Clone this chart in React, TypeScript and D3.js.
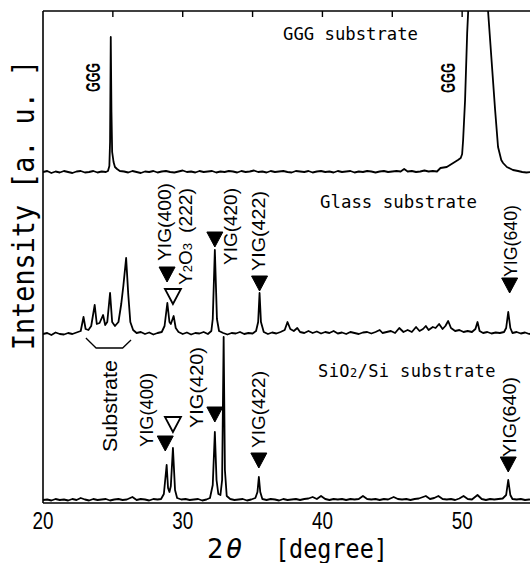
import React from "react";
import * as d3 from "d3";

// 2θ (deg), intensity relative to each trace's own baseline (a.u.)
const gggTrace: [number, number][] = [
  [20.0,0],[20.3,1],[20.6,-1],[20.9,0.5],[21.2,-0.5],[21.5,1],[21.8,0],[22.1,-1],[22.4,0.5],[22.7,1],[23.0,-0.5],[23.3,0],[23.6,1],[23.9,-0.5],[24.2,0.5],[24.5,0],[24.65,1],[24.75,6],[24.8,30],[24.85,135],[24.9,60],[24.95,20],[25.05,10],[25.15,5],[25.3,3],[25.5,1],[25.8,0.5],[26.1,-0.5],[26.4,1],[26.7,0],[27.0,-1],[27.3,0.5],[27.6,0],[27.9,1],[28.2,-0.5],[28.5,0.5],[28.8,1],[29.1,0],[29.4,-0.5],[29.7,0.5],[30.0,1.5],[30.3,0],[30.6,0.5],[30.9,-0.5],[31.2,1],[31.5,0],[31.8,0.5],[32.1,1],[32.4,-0.5],[32.7,0.5],[33.0,0],[33.3,1],[33.6,0.5],[33.9,-0.5],[34.2,1],[34.5,0],[34.8,0.5],[35.1,1.5],[35.4,0],[35.7,0.5],[36.0,-0.5],[36.3,1],[36.6,0],[36.9,0.5],[37.2,1],[37.5,0],[37.8,-0.5],[38.1,1],[38.4,0.5],[38.7,0],[39.0,1],[39.3,-0.5],[39.6,0.5],[39.9,1],[40.2,0],[40.5,0.5],[40.8,-0.5],[41.1,1],[41.4,0],[41.7,0.5],[42.0,1],[42.3,-0.5],[42.6,0.5],[42.9,0],[43.2,1],[43.5,0.5],[43.8,-0.5],[44.1,0.5],[44.4,1],[44.7,0],[45.0,0.5],[45.3,1],[45.6,0.5],[45.85,3],[46.1,0.5],[46.4,1],[46.7,0],[47.0,0.5],[47.3,1.5],[47.6,0.5],[47.9,1],[48.2,0.5],[48.45,4],[48.9,5],[49.36,9],[49.7,12],[49.9,14],[50.0,18],[50.07,32],[50.21,72],[50.36,139],[50.43,160],[50.6,260],[51.1,400],[51.6,260],[51.86,160],[52.14,105],[52.36,62],[52.57,25],[52.8,12],[52.93,9],[53.2,5],[53.64,2],[54.0,1],[54.3,0],[54.6,-0.5],[55,0],
];

const glassTrace: [number, number][] = [
  [20,0],[20.3,1],[20.6,-1],[20.9,1.5],[21.2,0],[21.5,-0.5],[21.8,1],[22.1,0],[22.4,1.5],[22.7,3],[22.9,17],[23.05,5],[23.25,4],[23.45,8],[23.7,29],[23.85,10],[24.05,11],[24.3,19],[24.45,9],[24.6,12],[24.8,41],[24.95,12],[25.15,8],[25.4,12],[25.6,30],[25.75,48],[25.95,76],[26.1,40],[26.25,12],[26.45,4],[26.7,1],[27.0,2],[27.3,0],[27.6,1.5],[27.9,-0.5],[28.2,1],[28.5,2],[28.7,8],[28.9,31],[29.05,12],[29.15,10],[29.35,18],[29.5,6],[29.7,2],[30.0,0],[30.3,1.5],[30.6,-0.5],[30.9,1],[31.2,0.5],[31.5,2],[31.8,0],[32.05,3],[32.15,15],[32.3,84],[32.45,15],[32.6,3],[32.9,1],[33.2,-0.5],[33.5,1],[33.8,0.5],[34.1,2],[34.4,0],[34.7,1],[35.0,0.5],[35.25,3],[35.4,12],[35.5,41],[35.6,12],[35.8,2],[36.1,0],[36.4,1.5],[36.7,0.5],[37.0,2],[37.3,4],[37.5,12],[37.7,5],[37.95,3],[38.2,6],[38.4,2],[38.7,1],[39.0,3],[39.3,1],[39.6,2.5],[39.9,0.5],[40.2,2],[40.5,1],[40.8,3],[41.1,0.5],[41.4,1.5],[41.7,0],[42.0,2],[42.3,1],[42.6,0],[42.9,1.5],[43.2,2],[43.5,0.5],[43.8,2],[44.1,4],[44.3,1],[44.6,2],[44.9,3],[45.2,1],[45.5,6],[45.8,2],[46.1,4],[46.4,2],[46.7,7],[46.95,3],[47.2,5],[47.4,8],[47.6,4],[47.9,7],[48.1,6],[48.35,10],[48.6,5],[48.8,8],[49.0,13],[49.2,6],[49.5,3],[49.8,4],[50.1,2],[50.4,3],[50.7,2],[50.95,5],[51.1,12],[51.25,3],[51.5,1],[51.8,2],[52.1,0.5],[52.4,1.5],[52.7,1],[53.0,2],[53.15,6],[53.3,22],[53.45,6],[53.6,1],[53.9,2],[54.2,0.5],[54.5,1.5],[54.8,0],[55,1],
];

const siTrace: [number, number][] = [
  [20,0],[20.3,0.5],[20.6,-0.5],[20.9,1],[21.2,0],[21.5,0.5],[21.8,-0.5],[22.1,1],[22.4,0],[22.7,2],[23.0,0.5],[23.3,-0.5],[23.6,1],[23.9,0],[24.2,0.5],[24.5,1],[24.8,-0.5],[25.1,0.5],[25.4,1],[25.7,0],[26.0,0.5],[26.4,3],[26.7,0],[27.0,1],[27.3,0.5],[27.6,-0.5],[27.9,1],[28.2,0.5],[28.45,1],[28.65,6],[28.85,35],[28.95,12],[29.05,8],[29.15,14],[29.3,52],[29.45,10],[29.6,2],[29.9,0.5],[30.2,1],[30.5,0],[30.8,0.5],[31.1,1],[31.4,-0.5],[31.7,0.5],[31.95,2],[32.15,15],[32.3,68],[32.42,20],[32.55,6],[32.7,5],[32.82,20],[32.93,163],[33.02,30],[33.15,4],[33.4,1],[33.7,0],[34.0,0.5],[34.3,1],[34.6,-0.5],[34.9,0.5],[35.2,2],[35.35,8],[35.45,23],[35.55,8],[35.7,1],[36.0,0],[36.3,1],[36.6,0.5],[36.9,-0.5],[37.2,1],[37.5,0],[37.8,0.5],[38.1,1],[38.4,0],[38.7,1],[39.0,1.5],[39.3,3],[39.6,1],[39.9,4],[40.2,1],[40.5,0],[40.8,1],[41.1,0.5],[41.4,1],[41.7,0],[42.0,1],[42.3,0.5],[42.6,1],[42.9,4],[43.2,1],[43.5,0.5],[43.8,1],[44.1,0],[44.4,1],[44.7,0.5],[45.1,3],[45.4,1],[45.7,0.5],[46.0,1],[46.3,0],[46.6,1],[46.9,1.5],[47.2,3],[47.4,4],[47.7,1],[48.0,2],[48.3,4],[48.6,1],[48.9,0.5],[49.2,1],[49.5,0],[49.8,1.5],[50.1,4],[50.4,1],[50.7,0.5],[51.1,5],[51.4,1],[51.7,0],[52.0,1],[52.3,0.5],[52.6,1],[52.9,1.5],[53.15,5],[53.3,20],[53.45,5],[53.6,1],[53.9,0.5],[54.2,1],[54.5,0],[54.8,0.5],[55,0],
];

// vertical offsets of the stacked traces (a.u.)
const traceOffsets = [3, 169, 331]; // Si, glass, GGG
const bottomTickLabels = [20, 30, 40, 50];
const topTicks = [25, 30, 35, 40, 45, 50];

const W = 530, H = 563;
const LEFT = 43, RIGHT = 532, TOP = 11, BOTTOM = 503;

const MONO = "'DejaVu Sans Mono', monospace";
const SANS = "'Liberation Sans', Arial, sans-serif";

export default function App() {
  const x = d3.scaleLinear().domain([20, 55]).range([LEFT, RIGHT]);
  const y = d3.scaleLinear().domain([0, 492]).range([BOTTOM, TOP]);

  const mkLine = (off: number) =>
    d3.line<[number, number]>().x((d) => x(d[0])).y((d) => y(d[1] + off));

  const traces: [[number, number][], number][] = [
    [siTrace, traceOffsets[0]],
    [glassTrace, traceOffsets[1]],
    [gggTrace, traceOffsets[2]],
  ];

  const rotLabel = (
    key: string,
    s: string,
    bx: number,
    by: number,
    len: number,
    fs = 19,
    weight: string | number = "normal"
  ) => (
    <text
      key={key}
      transform={`translate(${bx},${by}) rotate(-90)`}
      fontFamily={SANS}
      fontSize={fs}
      fontWeight={weight}
      textLength={len}
      lengthAdjust="spacingAndGlyphs"
      fill="#000"
    >
      {s}
    </text>
  );

  const down = (key: string, theta: number, top: number, open = false) => {
    const cx = x(theta);
    const w = 8, h = 15;
    return (
      <path
        key={key}
        d={`M${cx - w},${top}L${cx + w},${top}L${cx},${top + h}Z`}
        fill={open ? "#fff" : "#000"}
        stroke="#000"
        strokeWidth={open ? 1.8 : 1}
        strokeLinejoin="miter"
      />
    );
  };

  // substrate bracket under glass trace
  const bracket = `M${x(23.07)},338L${x(23.8)},348L${x(25.7)},348L${x(26.3)},340`;

  return (
    <svg
      width={W}
      height={H}
      style={{ position: "absolute", left: 0, top: 0, background: "#fff" }}
    >
      <defs>
        <clipPath id="plotClip">
          <rect x={LEFT} y={TOP} width={RIGHT - LEFT} height={BOTTOM - TOP} />
        </clipPath>
      </defs>
      <rect x={0} y={0} width={W} height={H} fill="#fff" />

      {/* traces */}
      <g clipPath="url(#plotClip)">
        {traces.map(([data, off], i) => (
          <path
            key={i}
            d={mkLine(off)(data) || ""}
            fill="none"
            stroke="#000"
            strokeWidth={1.8}
            strokeLinejoin="round"
          />
        ))}
      </g>

      {/* frame */}
      <line x1={LEFT} y1={TOP} x2={LEFT} y2={BOTTOM} stroke="#000" strokeWidth={1.6} />
      <line x1={LEFT} y1={TOP} x2={W} y2={TOP} stroke="#000" strokeWidth={1.6} />
      <line x1={LEFT} y1={BOTTOM} x2={W} y2={BOTTOM} stroke="#000" strokeWidth={1.6} />
      {topTicks.map((t) => (
        <line key={"tt" + t} x1={x(t)} y1={TOP} x2={x(t)} y2={TOP + 6} stroke="#000" strokeWidth={1.4} />
      ))}

      {/* bottom tick labels */}
      {bottomTickLabels.map((t) => (
        <text
          key={"bl" + t}
          x={x(t) - 10.5}
          y={529}
          fontFamily={SANS}
          fontSize={24}
          textLength={21}
          lengthAdjust="spacingAndGlyphs"
          fill="#000"
        >
          {t}
        </text>
      ))}

      {/* axis titles */}
      <text
        transform={`translate(34,350) rotate(-90)`}
        fontFamily={MONO}
        fontSize={30}
        textLength={290}
        lengthAdjust="spacingAndGlyphs"
        fill="#000"
      >
        Intensity [a. u. ]
      </text>
      <text x={207} y={558} fontFamily={MONO} fontSize={27} fill="#000">
        2
      </text>
      <text x={226} y={558} fontFamily={MONO} fontSize={27} fontStyle="italic" fill="#000">
        θ
      </text>
      <text
        x={275}
        y={558}
        fontFamily={MONO}
        fontSize={26}
        textLength={113}
        lengthAdjust="spacingAndGlyphs"
        fill="#000"
      >
        [degree]
      </text>

      {/* substrate titles */}
      <text x={283} y={40} fontFamily={MONO} fontSize={17} textLength={135} lengthAdjust="spacingAndGlyphs">
        GGG substrate
      </text>
      <text x={320} y={208} fontFamily={MONO} fontSize={17} textLength={157} lengthAdjust="spacingAndGlyphs">
        Glass substrate
      </text>
      <text x={318} y={377} fontFamily={MONO} fontSize={17} letterSpacing={0.4}>
        <tspan>SiO</tspan>
        <tspan fontSize={12}>2</tspan>
        <tspan>/Si substrate</tspan>
      </text>

      {/* GGG labels */}
      {rotLabel("g1", "GGG", 100, 92, 29, 20, "bold")}
      {rotLabel("g2", "GGG", 455, 93, 30, 20, "bold")}

      {/* Glass labels */}
      {rotLabel("gl400", "YIG(400)", 171, 261, 78)}
      <text transform={`translate(192,285) rotate(-90)`} fontFamily={SANS} fontSize={19} fill="#000">
        <tspan>Y</tspan>
        <tspan fontSize={13}>2</tspan>
        <tspan>O</tspan>
        <tspan fontSize={13}>3</tspan>
      </text>
      {rotLabel("gl222", "(222)", 192, 233, 45)}
      {rotLabel("gl420", "YIG(420)", 237, 265, 77)}
      {rotLabel("gl422", "YIG(422)", 265, 271, 80)}
      {rotLabel("gl640", "YIG(640)", 517, 277, 72)}
      {down("gt400", 28.88, 267)}
      {down("gt222", 29.3, 289, true)}
      {down("gt420", 32.3, 232)}
      {down("gt422", 35.5, 276)}
      {down("gt640", 53.4, 278)}

      {/* Si labels */}
      {rotLabel("si400", "YIG(400)", 153, 447, 74)}
      {rotLabel("si420", "YIG(420)", 203, 428, 81)}
      {rotLabel("si422", "YIG(422)", 265, 448, 77)}
      {rotLabel("si640", "YIG(640)", 516, 457, 80)}
      {down("st400", 28.75, 436)}
      {down("st222", 29.3, 417, true)}
      {down("st420", 32.3, 407)}
      {down("st422", 35.45, 453)}
      {down("st640", 53.3, 457)}

      {/* Substrate annotation */}
      {rotLabel("subst", "Substrate", 117, 452, 92, 21)}
      <path d={bracket} fill="none" stroke="#000" strokeWidth={1.3} />
    </svg>
  );
}
